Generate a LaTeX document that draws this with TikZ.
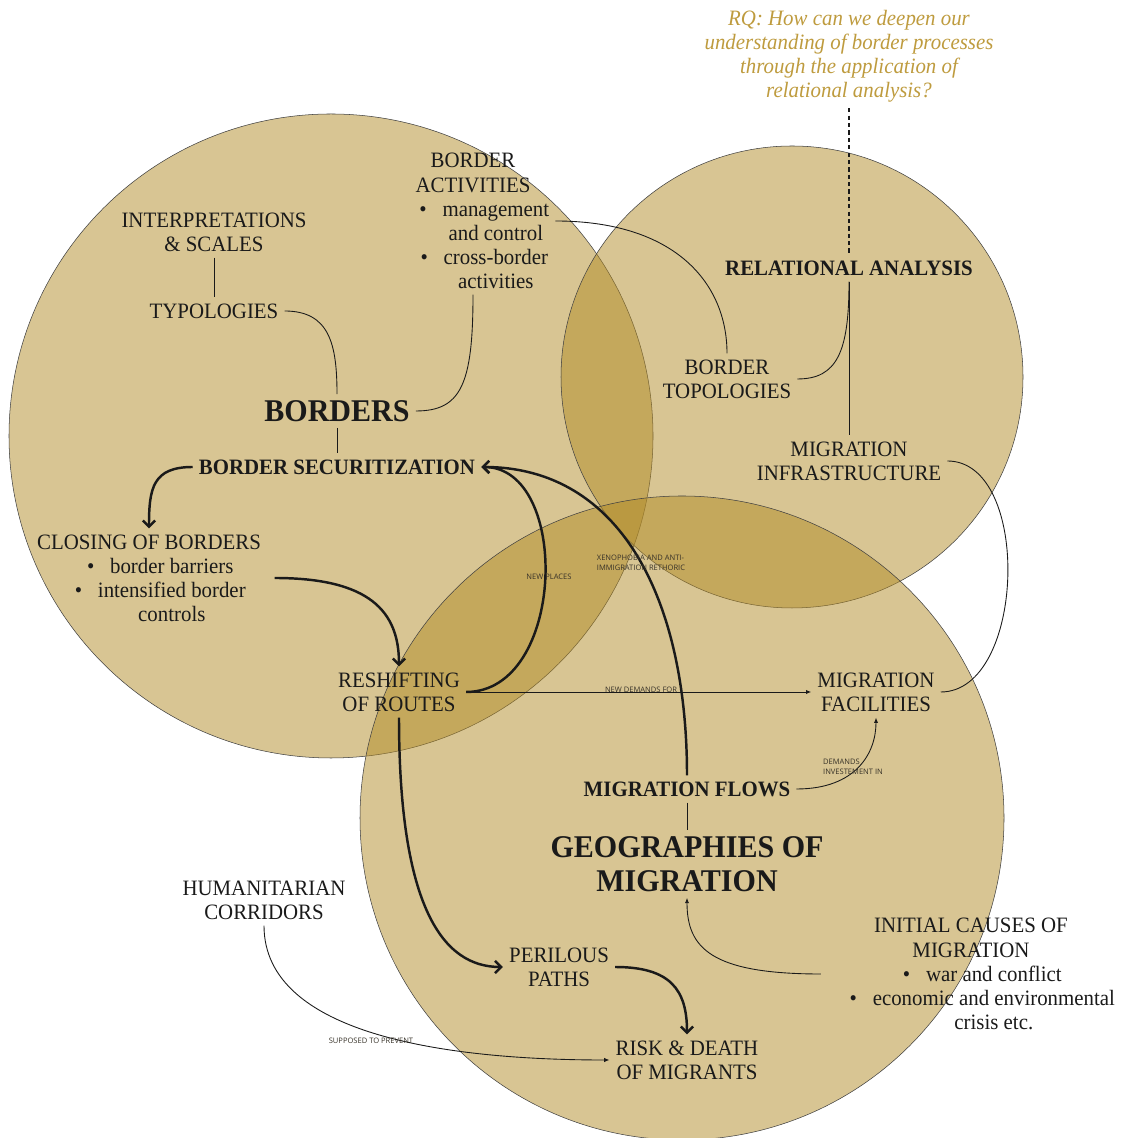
\documentclass[tikz,border=0pt]{standalone}
\usepackage{fontspec}
\setmainfont{Liberation Serif}[FakeStretch=0.95]
\newfontfamily\tagfont{Open Sans}
\usetikzlibrary{arrows.meta}
\definecolor{venncol}{RGB}{177,139,39}
\definecolor{ink}{RGB}{26,26,26}
\definecolor{rqgold}{RGB}{190,155,62}
\definecolor{tagcol}{RGB}{55,50,40}
\newcommand{\itm}[1]{\hspace*{26pt}\llap{\textbullet\hspace{9pt}}#1}
\newcommand{\cont}[1]{\hspace*{26pt}#1}

\begin{document}
\begin{tikzpicture}[x=0.02cm,y=0.02cm,
  term/.style={align=center,text=ink,font=\fontsize{12.5}{13.7}\selectfont},
  headterm/.style={term,font=\fontsize{12.5}{14}\selectfont\bfseries},
  hub/.style={term,font=\fontsize{18}{19.4}\selectfont\bfseries},
  smalltag/.style={align=left,text=tagcol,inner sep=1pt,font=\tagfont\fontsize{4.3}{5.7}\selectfont},
  venn/.style={fill=venncol,fill opacity=0.5,draw=black!75,line width=0.3pt},
  wire/.style={draw=ink,line width=0.5pt},
  link/.style={wire,-{Latex[length=3pt,width=2.4pt]}},
  flow/.style={draw=ink,line width=1.4pt,-{Straight Barb[length=3.5pt,width=7pt]}}]
  \useasboundingbox (0,0) rectangle (1121,1138);
  \path[venn] (331,702) circle[radius=322];
  \path[venn] (792,761) circle[radius=231];
  \path[venn] (682,320) circle[radius=322];

  \node[term,text=rqgold,font=\fontsize{12.5}{13.7}\selectfont\itshape] (rq) at (849,1082) {RQ: How can we deepen our\\understanding of border processes\\through the application of\\relational analysis?};
  \node[headterm] (rel) at (849,870) {RELATIONAL ANALYSIS};
  \node[term] (btop) at (727,759) {BORDER\\TOPOLOGIES};
  \node[term] (minf) at (849,677) {MIGRATION\\INFRASTRUCTURE};
  \node[term] (bact) at (473,917) {BORDER\\ACTIVITIES\\\itm{management}\\\cont{and control}\\\itm{cross-border}\\\cont{activities}};
  \node[term] (interp) at (214,906) {INTERPRETATIONS\\\& SCALES};
  \node[term] (typ) at (214,827) {TYPOLOGIES};
  \node[hub] (bor) at (337,727) {BORDERS};
  \node[headterm] (bsec) at (337,671) {BORDER SECURITIZATION};
  \node[term] (close) at (149,560) {CLOSING OF BORDERS\\\itm{border barriers}\\\itm{intensified border}\\\cont{controls}};
  \node[term] (rr) at (399,446) {RESHIFTING\\OF ROUTES};
  \node[term] (mfac) at (876,446) {MIGRATION\\FACILITIES};
  \node[headterm] (mflow) at (687,349) {MIGRATION FLOWS};
  \node[hub] (geo) at (687,274) {GEOGRAPHIES OF\\MIGRATION};
  \node[term] (cause) at (971,164) {INITIAL CAUSES OF\\MIGRATION\\\itm{war and conflict}\\\itm{economic and environmental}\\\cont{crisis etc.}};
  \node[term] (hum) at (264,238) {HUMANITARIAN\\CORRIDORS};
  \node[term] (per) at (559,171) {PERILOUS\\PATHS};
  \node[term] (risk) at (687,78) {RISK \& DEATH\\OF MIGRANTS};

  \draw[wire,line width=0.6pt,dash pattern=on 2.4pt off 1.8pt] (rq) -- (rel);
  \draw[wire] (rel) -- (minf);
  \draw[wire] (rel.south) .. controls +(0,-70) and +(40,0) .. (btop.east);
  \draw[wire] (bact.east) .. controls +(120,0) and +(0,70) .. (btop.north);
  \draw[wire] (bact.south) .. controls +(0,-90) and +(45,0) .. (bor.east);
  \draw[wire] (interp) -- (typ);
  \draw[wire] (typ.east) .. controls +(45,0) and +(0,50) .. (bor.north);
  \draw[wire] (bor) -- (bsec);
  \draw[flow] (bsec.west) .. controls +(-40,0) and +(0,40) .. (close.north);
  \draw[flow] ([xshift=0.15cm]close.east) .. controls +(95,0) and +(0,55) .. (rr.north);
  \draw[flow] (rr.east) .. controls +(100,0) and +(90,0) .. (bsec.east);
  \draw[flow] (mflow.north) .. controls +(0,175) and +(140,0) .. (bsec.east);
  \draw[link] (rr.east) -- (mfac.west);
  \draw[wire] (minf.east) .. controls +(85,0) and +(85,0) .. (mfac.east);
  \draw[link] (mflow.east) .. controls +(60,0) and +(0,-35) .. (mfac.south);
  \draw[wire] (mflow) -- (geo);
  \draw[link] (cause.west) .. controls +(-110,0) and +(0,-50) .. (geo.south);
  \draw[link] (hum.south) .. controls +(0,-110) and +(-160,0) .. (risk.west);
  \draw[flow] (rr.south) .. controls +(0,-190) and +(-60,0) .. (per.west);
  \draw[flow] (per.east) .. controls +(55,0) and +(0,45) .. (risk.north);

  \node[smalltag] (lplaces) at (549,561) {NEW PLACES};
  \node[smalltag] (lxeno) at (641,575) {XENOPHOBIA AND ANTI-\\IMMIGRATION RETHORIC};
  \node[smalltag] (ldemand) at (641,448) {NEW DEMANDS FOR};
  \node[smalltag] (linvest) at (853,371) {DEMANDS\\INVESTEMENT IN};
  \node[smalltag] (lprevent) at (371,97) {SUPPOSED TO PREVENT};
\end{tikzpicture}
\end{document}
